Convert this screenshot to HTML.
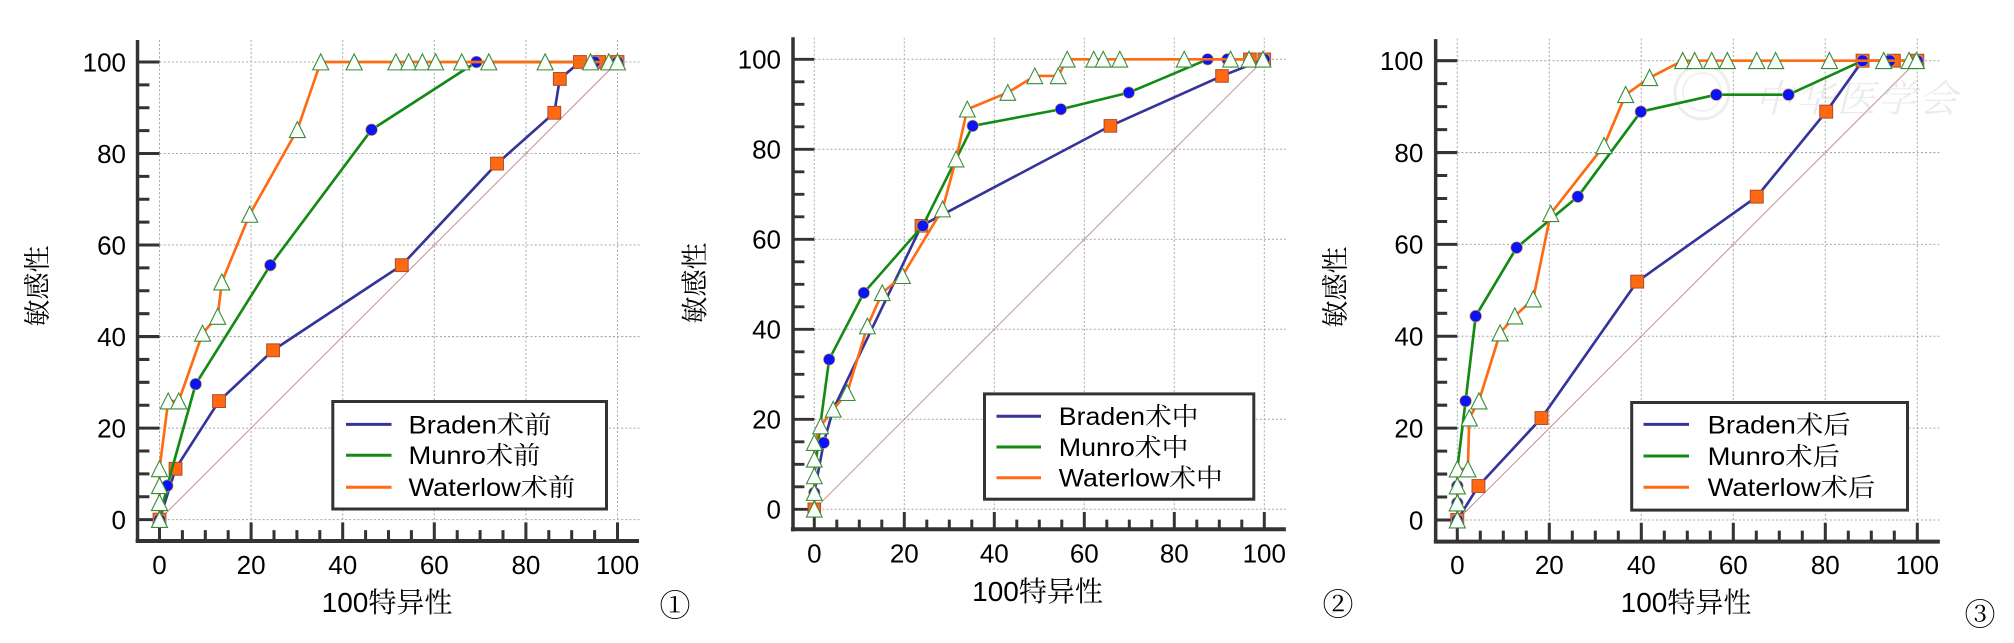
<!DOCTYPE html>
<html><head><meta charset="utf-8"><style>
html,body{margin:0;padding:0;background:#fff;}
body{width:2014px;height:643px;overflow:hidden;}
svg{display:block;}
text{font-family:"Liberation Sans","Noto Serif CJK SC",serif;fill:#000;}
</style></head><body>
<svg width="2014" height="643" viewBox="0 0 2014 643" xmlns="http://www.w3.org/2000/svg">
<defs>
<path id="grid" fill="none" stroke="#a8a8a8" stroke-width="0.22" stroke-dasharray="0.45 0.45" d="M0 0H104.8M0 20H104.8M0 40H104.8M0 60H104.8M0 80H104.8M0 100H104.8M0 0V104.8M20 0V104.8M40 0V104.8M60 0V104.8M80 0V104.8M100 0V104.8"/>
<path id="ticks" fill="none" stroke="#333" stroke-width="0.66" d="M-4.5 0H0M-4.5 20H0M-4.5 40H0M-4.5 60H0M-4.5 80H0M-4.5 100H0M-4.5 5H-2.2M-4.5 10H-2.2M-4.5 15H-2.2M-4.5 25H-2.2M-4.5 30H-2.2M-4.5 35H-2.2M-4.5 45H-2.2M-4.5 50H-2.2M-4.5 55H-2.2M-4.5 65H-2.2M-4.5 70H-2.2M-4.5 75H-2.2M-4.5 85H-2.2M-4.5 90H-2.2M-4.5 95H-2.2M0 -0.6V-4.5M20 -0.6V-4.5M40 -0.6V-4.5M60 -0.6V-4.5M80 -0.6V-4.5M100 -0.6V-4.5M5 -2.3V-4.5M10 -2.3V-4.5M15 -2.3V-4.5M25 -2.3V-4.5M30 -2.3V-4.5M35 -2.3V-4.5M45 -2.3V-4.5M50 -2.3V-4.5M55 -2.3V-4.5M65 -2.3V-4.5M70 -2.3V-4.5M75 -2.3V-4.5M85 -2.3V-4.5M90 -2.3V-4.5M95 -2.3V-4.5"/>
<path id="diag" fill="none" stroke="#c49090" stroke-width="0.22" d="M0 0L100 100"/>
<path id="tri" d="M0 1.78L1.75 -1.72L-1.75 -1.72Z" fill="#fbfffb" stroke="#3a8a3a" stroke-width="0.24"/>
<rect id="sq" x="-1.4" y="-1.4" width="2.8" height="2.8" fill="#ff6a10" stroke="#b04a30" stroke-width="0.22"/>
<circle id="cir" r="1.27" fill="#0a14f5" stroke="#d8a040" stroke-width="0.15"/>
</defs>

<!-- ================= PANEL 1 ================= -->
<g transform="translate(159.5,519.6) scale(4.58,-4.576)">
<use href="#grid"/>
<use href="#diag"/>
<use href="#ticks"/>
<path fill="none" stroke="#333" stroke-width="0.76" d="M-4.8 104.8V-5.1"/>
<path fill="none" stroke="#333" stroke-width="0.87" d="M-5.2 -4.68H104.7"/>
<polyline fill="none" stroke-width="0.58" stroke-linejoin="round" stroke="#34349a" points="0,0 3.5,11.1 13,25.9 24.8,37 52.9,55.6 73.7,77.8 86.2,88.9 87.4,96.3 91.8,100 100,100"/>
<use href="#sq" x="0" y="0"/><use href="#sq" x="3.5" y="11.1"/><use href="#sq" x="13" y="25.9"/><use href="#sq" x="24.8" y="37"/><use href="#sq" x="52.9" y="55.6"/><use href="#sq" x="73.7" y="77.8"/><use href="#sq" x="86.2" y="88.9"/><use href="#sq" x="87.4" y="96.3"/><use href="#sq" x="91.8" y="100"/><use href="#sq" x="96" y="100"/><use href="#sq" x="100" y="100"/>
<polyline fill="none" stroke-width="0.58" stroke-linejoin="round" stroke="#138a13" points="0,0 1.7,7.4 7.9,29.6 24.2,55.6 46.3,85.2 69.2,100 100,100"/>
<use href="#cir" x="0" y="0"/><use href="#cir" x="1.7" y="7.4"/><use href="#cir" x="7.9" y="29.6"/><use href="#cir" x="24.2" y="55.6"/><use href="#cir" x="46.3" y="85.2"/><use href="#cir" x="69.2" y="100"/><use href="#cir" x="95" y="100"/><use href="#cir" x="100" y="100"/>
<polyline fill="none" stroke-width="0.58" stroke-linejoin="round" stroke="#ff6a13" points="0,0 0,11.1 1.9,25.9 4.2,25.9 9.4,40.7 12.7,44.4 13.6,51.9 19.7,66.7 30.1,85.2 35.2,100 100,100"/>
<use href="#tri" x="0" y="0"/><use href="#tri" x="0" y="3.7"/><use href="#tri" x="0" y="7.4"/><use href="#tri" x="0" y="11.1"/><use href="#tri" x="1.9" y="25.9"/><use href="#tri" x="4.2" y="25.9"/><use href="#tri" x="9.4" y="40.7"/><use href="#tri" x="12.7" y="44.4"/><use href="#tri" x="13.6" y="51.9"/><use href="#tri" x="19.7" y="66.7"/><use href="#tri" x="30.1" y="85.2"/><use href="#tri" x="35.2" y="100"/><use href="#tri" x="42.5" y="100"/><use href="#tri" x="51.6" y="100"/><use href="#tri" x="54.4" y="100"/><use href="#tri" x="57.4" y="100"/><use href="#tri" x="60.3" y="100"/><use href="#tri" x="66" y="100"/><use href="#tri" x="71.9" y="100"/><use href="#tri" x="84.2" y="100"/><use href="#tri" x="94.1" y="100"/><use href="#tri" x="98.1" y="100"/><use href="#tri" x="100" y="100"/>
</g>
<rect x="332.8" y="401.5" width="273.7" height="107.5" fill="#fff" stroke="#333" stroke-width="3"/>
<path d="M346 424.4H391.5" stroke="#34349a" stroke-width="3"/>
<path d="M346 455.2H391.5" stroke="#138a13" stroke-width="3"/>
<path d="M346 487.2H391.5" stroke="#ff6a13" stroke-width="3"/>
<g font-size="25">
<text x="408.5" y="433.4" textLength="143" lengthAdjust="spacingAndGlyphs">Braden术前</text>
<text x="408.5" y="464.2" textLength="132" lengthAdjust="spacingAndGlyphs">Munro术前</text>
<text x="408.5" y="496.2" textLength="166.7" lengthAdjust="spacingAndGlyphs">Waterlow术前</text>
</g>
<g font-size="26" text-anchor="end">
<text x="126" y="528.9">0</text><text x="126" y="437.4">20</text><text x="126" y="345.9">40</text><text x="126" y="254.3">60</text><text x="126" y="162.8">80</text><text x="126" y="71.3">100</text>
</g>
<g font-size="26" text-anchor="middle">
<text x="159.5" y="574">0</text><text x="251.1" y="574">20</text><text x="342.7" y="574">40</text><text x="434.3" y="574">60</text><text x="525.9" y="574">80</text><text x="617.5" y="574">100</text>
</g>
<text x="387" y="612" font-size="28" text-anchor="middle">100特异性</text>
<text transform="translate(38,286) rotate(-90)" font-size="27" text-anchor="middle" dominant-baseline="central">敏感性</text>
<text x="675" y="603" font-size="31" text-anchor="middle" dominant-baseline="central" style="font-family:'Noto Serif CJK SC','DejaVu Serif',serif">①</text>

<!-- ================= PANEL 2 ================= -->
<g transform="translate(814.3,509.3) scale(4.5,-4.5)">
<use href="#grid"/>
<use href="#diag"/>
<use href="#ticks"/>
<path fill="none" stroke="#333" stroke-width="0.78" d="M-4.73 104.9V-4.9"/>
<path fill="none" stroke="#333" stroke-width="0.89" d="M-5.2 -4.44H104.8"/>
<polyline fill="none" stroke-width="0.58" stroke-linejoin="round" stroke="#34349a" points="0,0 0,3.7 2.1,14.8 4.2,22.2 23.8,63 65.8,85.2 90.6,96.3 100,100"/>
<use href="#sq" x="0" y="0"/><use href="#sq" x="23.8" y="63"/><use href="#sq" x="65.8" y="85.2"/><use href="#sq" x="90.6" y="96.3"/><use href="#sq" x="96.8" y="100"/><use href="#sq" x="100" y="100"/>
<polyline fill="none" stroke-width="0.58" stroke-linejoin="round" stroke="#138a13" points="0,0 0,7.4 1.3,18.5 3.3,33.3 11,48.1 24.1,63 35.2,85.2 54.8,88.9 69.9,92.6 87.4,100 100,100"/>
<use href="#cir" x="0" y="3.7"/><use href="#cir" x="2.1" y="14.8"/><use href="#cir" x="3.3" y="33.3"/><use href="#cir" x="11" y="48.1"/><use href="#cir" x="24.1" y="63"/><use href="#cir" x="35.2" y="85.2"/><use href="#cir" x="54.8" y="88.9"/><use href="#cir" x="69.9" y="92.6"/><use href="#cir" x="87.4" y="100"/><use href="#cir" x="91.8" y="100"/><use href="#cir" x="100" y="100"/>
<polyline fill="none" stroke-width="0.58" stroke-linejoin="round" stroke="#ff6a13" points="0,0 0,14.8 1.4,18.5 4.2,22.2 7.3,25.9 11.8,40.7 15.1,48.1 19.6,51.9 28.5,66.7 31.5,77.8 34,88.9 43,92.6 49,96.3 54.2,96.3 56.2,100 100,100"/>
<use href="#tri" x="0" y="0"/><use href="#tri" x="0" y="3.7"/><use href="#tri" x="0" y="7.4"/><use href="#tri" x="0" y="11.1"/><use href="#tri" x="0" y="14.8"/><use href="#tri" x="1.4" y="18.5"/><use href="#tri" x="4.2" y="22.2"/><use href="#tri" x="7.3" y="25.9"/><use href="#tri" x="11.8" y="40.7"/><use href="#tri" x="15.1" y="48.1"/><use href="#tri" x="19.6" y="51.9"/><use href="#tri" x="28.5" y="66.7"/><use href="#tri" x="31.5" y="77.8"/><use href="#tri" x="34" y="88.9"/><use href="#tri" x="43" y="92.6"/><use href="#tri" x="49" y="96.3"/><use href="#tri" x="54.2" y="96.3"/><use href="#tri" x="56.2" y="100"/><use href="#tri" x="62.1" y="100"/><use href="#tri" x="64.2" y="100"/><use href="#tri" x="67.9" y="100"/><use href="#tri" x="82.2" y="100"/><use href="#tri" x="92.5" y="100"/><use href="#tri" x="96.6" y="100"/><use href="#tri" x="99.7" y="100"/>
</g>
<rect x="984.5" y="393.9" width="269.3" height="105.3" fill="#fff" stroke="#333" stroke-width="3"/>
<path d="M996.5 416.2H1041" stroke="#34349a" stroke-width="3"/>
<path d="M996.5 447H1041" stroke="#138a13" stroke-width="3"/>
<path d="M996.5 477.7H1041" stroke="#ff6a13" stroke-width="3"/>
<g font-size="25">
<text x="1058.8" y="425.2" textLength="139.7" lengthAdjust="spacingAndGlyphs">Braden术中</text>
<text x="1058.8" y="456" textLength="129.6" lengthAdjust="spacingAndGlyphs">Munro术中</text>
<text x="1058.8" y="486.7" textLength="164" lengthAdjust="spacingAndGlyphs">Waterlow术中</text>
</g>
<g font-size="26" text-anchor="end">
<text x="781" y="518.6">0</text><text x="781" y="428.6">20</text><text x="781" y="338.6">40</text><text x="781" y="248.6">60</text><text x="781" y="158.6">80</text><text x="781" y="68.6">100</text>
</g>
<g font-size="26" text-anchor="middle">
<text x="814.3" y="562.7">0</text><text x="904.3" y="562.7">20</text><text x="994.3" y="562.7">40</text><text x="1084.3" y="562.7">60</text><text x="1174.3" y="562.7">80</text><text x="1264.3" y="562.7">100</text>
</g>
<text x="1037.5" y="601" font-size="28" text-anchor="middle">100特异性</text>
<text transform="translate(695.6,283) rotate(-90)" font-size="27" text-anchor="middle" dominant-baseline="central">敏感性</text>
<text x="1338" y="602" font-size="31" text-anchor="middle" dominant-baseline="central" style="font-family:'Noto Serif CJK SC','DejaVu Serif',serif">②</text>

<!-- ================= PANEL 3 ================= -->
<g transform="translate(1457.3,520) scale(4.6,-4.593)">
<use href="#grid"/>
<use href="#diag"/>
<use href="#ticks"/>
<path fill="none" stroke="#333" stroke-width="0.76" d="M-4.7 104.7V-5.1"/>
<path fill="none" stroke="#333" stroke-width="0.87" d="M-5.1 -4.72H104.9"/>
</g>
<g opacity="0.45">
<circle cx="1702" cy="92" r="27" fill="none" stroke="#d8d8d8" stroke-width="3"/>
<circle cx="1702" cy="92" r="19" fill="none" stroke="#e2e2e2" stroke-width="2"/>
<text x="1755" y="112" font-size="38" letter-spacing="3" style="fill:#d4d4d4;font-style:italic">中华医学会</text>
</g>
<g transform="translate(1457.3,520) scale(4.6,-4.593)">
<polyline fill="none" stroke-width="0.58" stroke-linejoin="round" stroke="#34349a" points="0,0 4.6,7.4 18.3,22.2 39.1,51.9 65.1,70.4 80.2,88.9 88.1,100 100,100"/>
<use href="#sq" x="0" y="0"/><use href="#sq" x="4.6" y="7.4"/><use href="#sq" x="18.3" y="22.2"/><use href="#sq" x="39.1" y="51.9"/><use href="#sq" x="65.1" y="70.4"/><use href="#sq" x="80.2" y="88.9"/><use href="#sq" x="88.1" y="100"/><use href="#sq" x="94.9" y="100"/><use href="#sq" x="100" y="100"/>
<polyline fill="none" stroke-width="0.58" stroke-linejoin="round" stroke="#138a13" points="0,0 0,11.1 1.8,25.9 4,44.4 12.9,59.3 26.2,70.4 39.9,88.9 56.3,92.6 72,92.6 88.1,100 100,100"/>
<use href="#cir" x="0" y="0"/><use href="#cir" x="0" y="3.7"/><use href="#cir" x="0" y="7.4"/><use href="#cir" x="1.8" y="25.9"/><use href="#cir" x="4" y="44.4"/><use href="#cir" x="12.9" y="59.3"/><use href="#cir" x="26.2" y="70.4"/><use href="#cir" x="39.9" y="88.9"/><use href="#cir" x="56.3" y="92.6"/><use href="#cir" x="72" y="92.6"/><use href="#cir" x="88.1" y="100"/><use href="#cir" x="94" y="100"/><use href="#cir" x="100" y="100"/>
<polyline fill="none" stroke-width="0.58" stroke-linejoin="round" stroke="#ff6a13" points="0,0 0,11.1 2.3,11.1 2.6,22.2 4.7,25.9 9.3,40.7 12.5,44.4 16.5,48.1 20.3,66.7 31.9,81.5 36.6,92.6 41.8,96.3 49,100 100,100"/>
<use href="#tri" x="0" y="0"/><use href="#tri" x="0" y="3.7"/><use href="#tri" x="0" y="7.4"/><use href="#tri" x="0" y="11.1"/><use href="#tri" x="2.3" y="11.1"/><use href="#tri" x="2.6" y="22.2"/><use href="#tri" x="4.7" y="25.9"/><use href="#tri" x="9.3" y="40.7"/><use href="#tri" x="12.5" y="44.4"/><use href="#tri" x="16.5" y="48.1"/><use href="#tri" x="20.3" y="66.7"/><use href="#tri" x="31.9" y="81.5"/><use href="#tri" x="36.6" y="92.6"/><use href="#tri" x="41.8" y="96.3"/><use href="#tri" x="49" y="100"/><use href="#tri" x="51.6" y="100"/><use href="#tri" x="55.3" y="100"/><use href="#tri" x="58.7" y="100"/><use href="#tri" x="65.1" y="100"/><use href="#tri" x="69.2" y="100"/><use href="#tri" x="80.9" y="100"/><use href="#tri" x="92.7" y="100"/><use href="#tri" x="98.2" y="100"/><use href="#tri" x="99.8" y="100"/>
</g>
<rect x="1631.7" y="402.5" width="275.8" height="107.6" fill="#fff" stroke="#333" stroke-width="3"/>
<path d="M1643.5 424.4H1689" stroke="#34349a" stroke-width="3"/>
<path d="M1643.5 456H1689" stroke="#138a13" stroke-width="3"/>
<path d="M1643.5 487.2H1689" stroke="#ff6a13" stroke-width="3"/>
<g font-size="25">
<text x="1707.6" y="433.4" textLength="143" lengthAdjust="spacingAndGlyphs">Braden术后</text>
<text x="1707.6" y="465" textLength="132.4" lengthAdjust="spacingAndGlyphs">Munro术后</text>
<text x="1707.6" y="496.2" textLength="167.7" lengthAdjust="spacingAndGlyphs">Waterlow术后</text>
</g>
<g font-size="26" text-anchor="end">
<text x="1423.3" y="529.3">0</text><text x="1423.3" y="437.4">20</text><text x="1423.3" y="345.6">40</text><text x="1423.3" y="253.7">60</text><text x="1423.3" y="161.9">80</text><text x="1423.3" y="70">100</text>
</g>
<g font-size="26" text-anchor="middle">
<text x="1457.3" y="574">0</text><text x="1549.3" y="574">20</text><text x="1641.3" y="574">40</text><text x="1733.3" y="574">60</text><text x="1825.3" y="574">80</text><text x="1917.3" y="574">100</text>
</g>
<text x="1686" y="612" font-size="28" text-anchor="middle">100特异性</text>
<text transform="translate(1336,287) rotate(-90)" font-size="27" text-anchor="middle" dominant-baseline="central">敏感性</text>
<text x="1980" y="612" font-size="31" text-anchor="middle" dominant-baseline="central" style="font-family:'Noto Serif CJK SC','DejaVu Serif',serif">③</text>
</svg>
</body></html>
